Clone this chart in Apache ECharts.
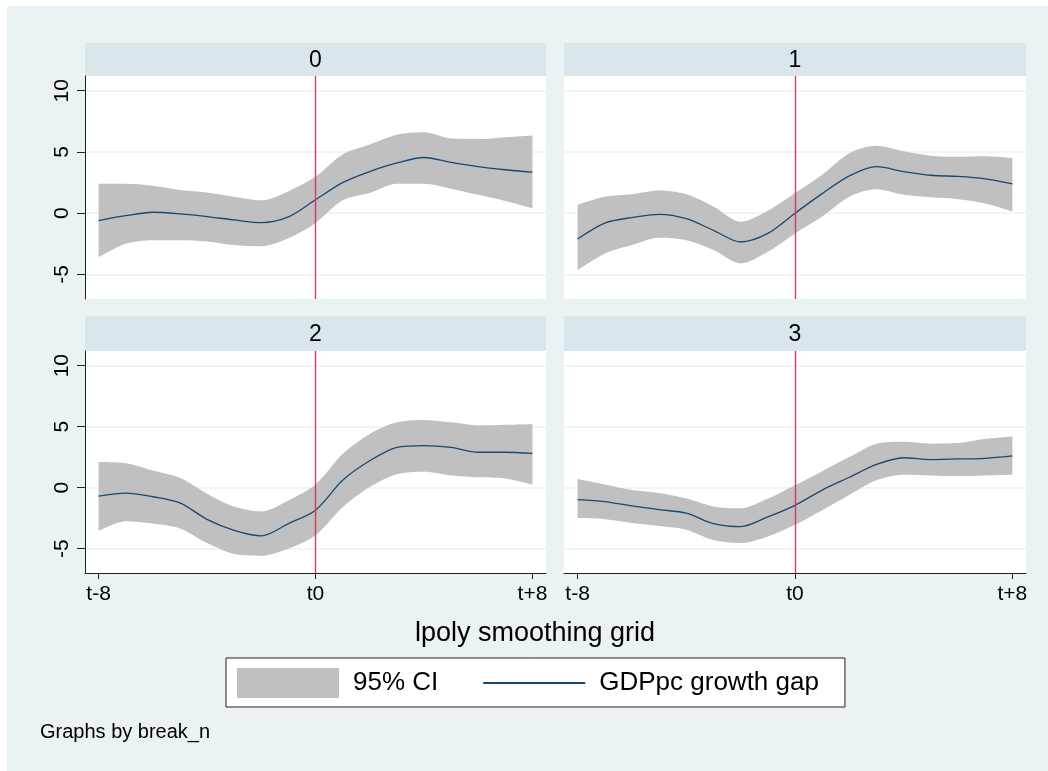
<!DOCTYPE html>
<html>
<head>
<meta charset="utf-8">
<script src="https://cdn.jsdelivr.net/npm/echarts@6/dist/echarts.min.js"></script>
<style>
html,body{margin:0;padding:0;background:#ffffff;}
#chart{width:1048px;height:771px;}
</style>
</head>
<body>
<div id="chart"></div>
<script>
// ---- data ----
const xGrid = [-8,-7,-6,-5,-4,-3,-2,-1,0,1,2,3,4,5,6,7,8];
const xTickValues = [-8, 0, 8];
const xTickLabels = ['t-8', 't0', 't+8'];
const yTickValues = [-5, 0, 5, 10];
const panelTitles = ['0', '1', '2', '3'];

const mean0 = [-0.6,-0.2,0.08,-0.05,-0.27,-0.55,-0.77,-0.3,1.1,2.5,3.4,4.1,4.55,4.15,3.8,3.55,3.35];
const hi0   = [2.4,2.4,2.25,1.9,1.7,1.35,1.05,1.8,3.0,4.8,5.6,6.4,6.6,6.1,6.05,6.2,6.35];
const lo0   = [-3.6,-2.5,-2.2,-2.2,-2.3,-2.6,-2.7,-2.05,-0.8,1.05,1.65,2.4,2.4,2.0,1.5,1.0,0.4];

const mean1 = [-2.1,-0.8,-0.35,-0.1,-0.45,-1.4,-2.35,-1.65,0.0,1.6,3.05,3.8,3.4,3.1,3.0,2.8,2.4];
const hi1   = [0.7,1.35,1.55,1.85,1.55,0.55,-0.7,0.2,1.65,3.15,4.9,5.5,5.05,4.7,4.6,4.65,4.5];
const lo1   = [-4.65,-3.3,-2.6,-2.0,-2.2,-3.0,-4.1,-3.15,-1.65,-0.27,1.35,1.95,1.5,1.3,1.15,0.8,0.15];

const mean2 = [-0.7,-0.45,-0.75,-1.25,-2.6,-3.5,-3.95,-2.95,-1.85,0.6,2.2,3.3,3.45,3.3,2.9,2.9,2.8];
const hi2   = [2.1,2.0,1.4,0.8,-0.5,-1.55,-1.95,-1.05,0.25,2.75,4.4,5.35,5.55,5.35,5.1,5.15,5.2];
const lo2   = [-3.55,-2.75,-2.95,-3.35,-4.55,-5.45,-5.6,-5.0,-3.9,-1.6,0.05,1.1,1.3,1.0,0.85,0.75,0.25];

const mean3 = [-0.98,-1.15,-1.5,-1.8,-2.1,-2.95,-3.2,-2.4,-1.45,-0.2,0.85,1.9,2.45,2.3,2.35,2.4,2.6];
const hi3   = [0.7,0.25,-0.2,-0.45,-0.9,-1.55,-1.7,-0.9,0.2,1.35,2.5,3.6,3.75,3.6,3.65,4.0,4.2];
const lo3   = [-2.5,-2.6,-2.9,-3.15,-3.45,-4.3,-4.55,-4.0,-3.05,-1.85,-0.6,0.6,1.05,1.0,0.95,1.0,1.05];

const means = [mean0, mean1, mean2, mean3];
const his = [hi0, hi1, hi2, hi3];
const los = [lo0, lo1, lo2, lo3];

// ---- layout / style ----
const FONT = "'Liberation Sans', Arial, sans-serif";
const BG = '#EAF2F3';
const STRIP = '#D9E6EB';
const CI_COLOR = '#C0C0C0';
const LINE_COLOR = '#1A476F';
const VLINE_COLOR = '#D63A62';

const grids = [
  {left: 85,  top: 76,  width: 461, height: 223},
  {left: 564, top: 76,  width: 462, height: 223},
  {left: 85,  top: 351, width: 461, height: 222},
  {left: 564, top: 351, width: 462, height: 222}
];
const strips = [
  {y: 43, h: 33}, {y: 43, h: 33}, {y: 316, h: 35}, {y: 316, h: 35}
];

const xCats = xGrid.map(String);
const isTick = (idx, val) => xTickValues.indexOf(Number(val)) >= 0;

const xAxes = [], yAxes = [], series = [], graphics = [];

graphics.push({type: 'rect', z: -100, shape: {x: 7, y: 6, width: 1041, height: 765}, style: {fill: BG}});

grids.forEach((g, i) => {
  const leftCol = (i % 2 === 0);
  const bottomRow = (i >= 2);
  xAxes.push({
    gridIndex: i, type: 'category', data: xCats, boundaryGap: true,
    axisLine: {show: bottomRow, onZero: false, lineStyle: {color: '#222', width: 1}},
    axisTick: {show: bottomRow, alignWithLabel: true, interval: isTick, length: 6, lineStyle: {color: '#222'}},
    axisLabel: {show: bottomRow, interval: isTick, margin: 11, fontSize: 21, color: '#000', fontFamily: FONT,
      formatter: v => xTickLabels[xTickValues.indexOf(Number(v))]},
    splitLine: {show: false}
  });
  yAxes.push({
    gridIndex: i, type: 'value', min: -7, max: 11.2,
    axisLine: {show: leftCol, onZero: false, lineStyle: {color: '#222', width: 1}},
    axisTick: {show: leftCol, customValues: yTickValues, length: 8, lineStyle: {color: '#222'}},
    axisLabel: {show: leftCol, customValues: yTickValues, rotate: 90, margin: 12, fontSize: 21, color: '#000', fontFamily: FONT},
    splitLine: {show: true, lineStyle: {color: BG, width: 1.5}}
  });
  const lo = los[i], hi = his[i], mean = means[i];
  series.push({
    name: 'lo' + i, type: 'line', xAxisIndex: i, yAxisIndex: i, stack: 'ci' + i, stackStrategy: 'all',
    data: lo.slice(), symbol: 'none', smooth: 0.3,
    lineStyle: {opacity: 0}, silent: true, z: 2
  });
  series.push({
    name: '95% CI', type: 'line', xAxisIndex: i, yAxisIndex: i, stack: 'ci' + i, stackStrategy: 'all',
    data: hi.map((h, k) => h - lo[k]), symbol: 'none', smooth: 0.3,
    lineStyle: {opacity: 0}, areaStyle: {color: CI_COLOR, opacity: 1}, itemStyle: {color: CI_COLOR},
    silent: true, z: 2
  });
  series.push({
    name: 'GDPpc growth gap', type: 'line', xAxisIndex: i, yAxisIndex: i,
    data: mean.slice(), symbol: 'none', smooth: 0.3,
    lineStyle: {color: LINE_COLOR, width: 1.3}, itemStyle: {color: LINE_COLOR}, silent: true, z: 4,
    markLine: {silent: true, symbol: 'none', label: {show: false}, animation: false,
      lineStyle: {color: VLINE_COLOR, width: 1.4, type: 'solid'}, data: [{xAxis: '0'}]}
  });
  const s = strips[i];
  graphics.push({type: 'rect', z: -50, shape: {x: g.left, y: s.y, width: g.width, height: s.h}, style: {fill: STRIP}});
  graphics.push({type: 'text', z: 10, x: g.left + g.width / 2, y: s.y + s.h / 2 + 1,
    style: {text: panelTitles[i], fill: '#000', font: '23px ' + FONT, textAlign: 'center', textVerticalAlign: 'middle'}});
});

graphics.push({type: 'text', z: 10, x: 535, y: 634,
  style: {text: 'lpoly smoothing grid', fill: '#000', font: '27px ' + FONT, textAlign: 'center', textVerticalAlign: 'middle'}});
graphics.push({type: 'text', z: 10, x: 40, y: 732,
  style: {text: 'Graphs by break_n', fill: '#000', font: '20px ' + FONT, textAlign: 'left', textVerticalAlign: 'middle'}});

const option = {
  animation: false,
  backgroundColor: '#ffffff',
  grid: grids.map(g => Object.assign({show: true, backgroundColor: '#ffffff', borderWidth: 0, containLabel: false}, g)),
  xAxis: xAxes,
  yAxis: yAxes,
  legend: {
    left: 226, top: 658, orient: 'horizontal',
    padding: [10, 26, 9, 11], itemGap: 44, itemWidth: 102, itemHeight: 30,
    backgroundColor: '#ffffff', borderColor: '#222', borderWidth: 1, borderRadius: 0,
    textStyle: {fontSize: 26, color: '#000', fontFamily: FONT, padding: [0, 0, 0, 9]},
    selectedMode: false,
    data: [
      {name: '95% CI', icon: 'rect', itemStyle: {color: CI_COLOR}},
      {name: 'GDPpc growth gap', itemStyle: {opacity: 0}, lineStyle: {color: LINE_COLOR, width: 2}}
    ]
  },
  graphic: graphics,
  series: series
};

const chart = echarts.init(document.getElementById('chart'), null, {renderer: 'canvas'});
chart.setOption(option);
</script>
</body>
</html>
